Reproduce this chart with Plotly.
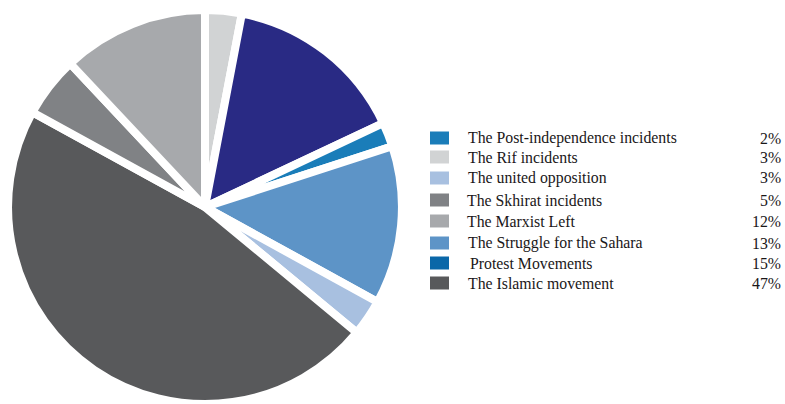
import plotly.graph_objects as go

W, H = 785, 404

# Slices in drawing order, clockwise from 12 o'clock
slice_labels = [
    "The Rif incidents",
    "Protest Movements",
    "The Post-independence incidents",
    "The Struggle for the Sahara",
    "The united opposition",
    "The Islamic movement",
    "The Skhirat incidents",
    "The Marxist Left",
]
slice_values = [3, 15, 2, 13, 3, 47, 5, 12]
slice_colors = ["#d1d3d4", "#292a84", "#1a7db9", "#5d94c7",
                "#a8c0e0", "#58595b", "#808285", "#a7a9ac"]

# Legend rows, top to bottom
legend_labels = [
    "The Post-independence incidents",
    "The Rif incidents",
    "The united opposition",
    "The Skhirat incidents",
    "The Marxist Left",
    "The Struggle for the Sahara",
    "Protest Movements",
    "The Islamic movement",
]
legend_pcts = ["2%", "3%", "3%", "5%", "12%", "13%", "15%", "47%"]
legend_swatches = ["#1a7db9", "#d1d3d4", "#a8c0e0", "#808285",
                   "#a7a9ac", "#5d94c7", "#0a67a8", "#58595b"]

fig = go.Figure(go.Pie(
    labels=slice_labels,
    values=slice_values,
    sort=False,
    direction="clockwise",
    rotation=0,
    marker=dict(colors=slice_colors, line=dict(color="white", width=8)),
    textinfo="none",
    hoverinfo="label+percent",
    showlegend=False,
    domain=dict(x=[8 / W, 402 / W], y=[0, 0.975]),
))

def px(x):
    return x / W

def py(y):
    return 1 - y / H

row_y = [138, 157, 178, 200, 221, 243, 263, 283]
label_x = [466, 466, 466, 465, 465, 466, 468, 466]
shapes, annotations = [], []
font = dict(family="Liberation Serif, Times New Roman, serif", size=15.8, color="#1a1718")
for i, name in enumerate(legend_labels):
    yc = row_y[i]
    shapes.append(dict(type="rect", xref="paper", yref="paper",
                       x0=px(430), x1=px(449), y0=py(yc - 6.5), y1=py(yc + 6.5),
                       fillcolor=legend_swatches[i], line=dict(width=0)))
    annotations.append(dict(xref="paper", yref="paper", x=px(label_x[i]), y=py(yc),
                            xanchor="left", yanchor="middle", text=name,
                            showarrow=False, font=font))
    annotations.append(dict(xref="paper", yref="paper", x=px(783), y=py(yc),
                            xanchor="right", yanchor="middle", text=legend_pcts[i],
                            showarrow=False, font=font))

fig.update_layout(
    width=W, height=H,
    margin=dict(l=0, r=0, t=0, b=0),
    paper_bgcolor="white",
    plot_bgcolor="white",
    shapes=shapes,
    annotations=annotations,
)

fig.write_html("out.html")
